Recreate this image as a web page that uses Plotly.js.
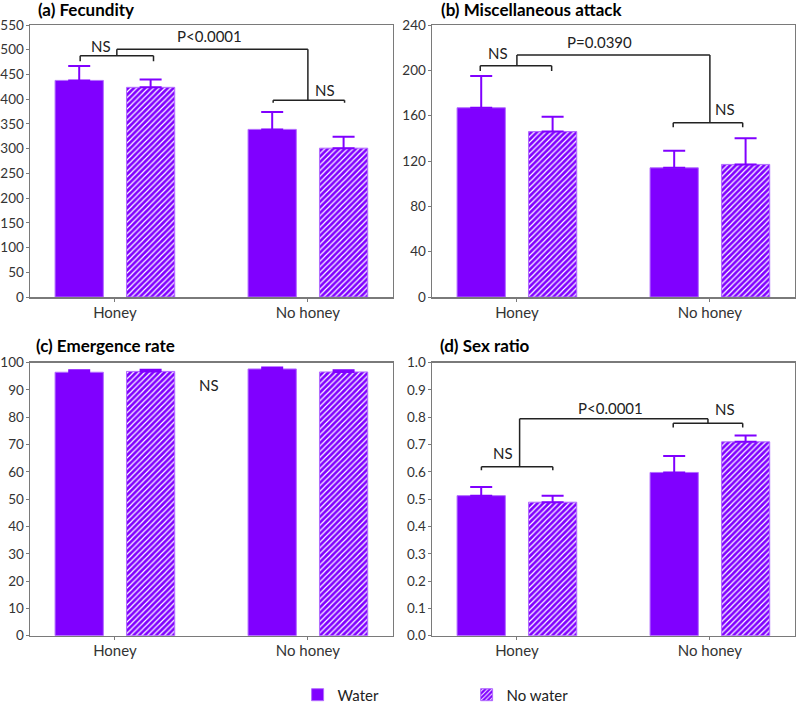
<!DOCTYPE html>
<html>
<head>
<meta charset="utf-8">
<script src="https://cdn.plot.ly/plotly-3.0.1.min.js"></script>
<style>html,body{margin:0;padding:0;background:#fff;}#chart{width:800px;height:703px;}</style>
</head>
<body>
<div id="chart"></div>
<script>
// ---- data ----
const categories = ['Honey', 'No honey'];
const seriesNames = ['Water', 'No water'];

const fecundityWater = [438, 339];
const fecundityWaterErr = [29, 35];
const fecundityNoWater = [424, 301];
const fecundityNoWaterErr = [16, 23];

const attackWater = [167, 114];
const attackWaterErr = [28, 15];
const attackNoWater = [146, 117];
const attackNoWaterErr = [13, 23];

const emergenceWater = [96.5, 97.7];
const emergenceWaterErr = [0.7, 0.5];
const emergenceNoWater = [96.8, 96.6];
const emergenceNoWaterErr = [0.6, 0.6];

const sexWater = [0.513, 0.598];
const sexWaterErr = [0.032, 0.06];
const sexNoWater = [0.489, 0.710];
const sexNoWaterErr = [0.024, 0.023];

const panelTitles = ['(a) Fecundity', '(b) Miscellaneous attack', '(c) Emergence rate', '(d) Sex ratio'];

// ---- styling ----
const PURPLE = '#8000FF';
const OUTLINE = '#B26BFF';
const FONT = 'Lato, "Open Sans", sans-serif';

function barTrace(vals, errs, hatched, xa, ya, showlegend) {
  const t = {
    type: 'bar',
    name: seriesNames[hatched ? 1 : 0],
    x: categories,
    y: vals,
    xaxis: xa, yaxis: ya,
    width: 0.25,
    offset: hatched ? 0.06 : -0.31,
    showlegend: showlegend,
    legendgroup: hatched ? 'nw' : 'w',
    marker: {
      color: PURPLE,
      line: {color: OUTLINE, width: 1}
    },
    error_y: {
      type: 'data', symmetric: false,
      array: errs, arrayminus: errs.map(() => 0),
      color: PURPLE, thickness: 2, width: 11
    },
    hoverinfo: 'y'
  };
  if (hatched) {
    t.marker.pattern = {shape: '/', fgcolor: '#ffffff', bgcolor: PURPLE, size: 4, solidity: 0.3, fillmode: 'replace'};
  }
  return t;
}

const data = [
  barTrace(fecundityWater, fecundityWaterErr, false, 'x', 'y', true),
  barTrace(fecundityNoWater, fecundityNoWaterErr, true, 'x', 'y', true),
  barTrace(attackWater, attackWaterErr, false, 'x2', 'y2', false),
  barTrace(attackNoWater, attackNoWaterErr, true, 'x2', 'y2', false),
  barTrace(emergenceWater, emergenceWaterErr, false, 'x3', 'y3', false),
  barTrace(emergenceNoWater, emergenceNoWaterErr, true, 'x3', 'y3', false),
  barTrace(sexWater, sexWaterErr, false, 'x4', 'y4', false),
  barTrace(sexNoWater, sexNoWaterErr, true, 'x4', 'y4', false)
];

function xAxis(domain, anchor) {
  return {
    domain: domain, anchor: anchor, type: 'category',
    range: [-0.44, 1.44],
    showline: true, linecolor: '#7a7a7a', linewidth: 1.5, mirror: true,
    ticks: 'outside', ticklen: 3, tickwidth: 1, tickcolor: '#7a7a7a',
    ticklabelstandoff: -2,
    showgrid: false, zeroline: false,
    tickfont: {family: FONT, size: 15, color: '#333'},
    fixedrange: true
  };
}
function yAxis(domain, anchor, range, dtick, fmt) {
  return {
    domain: domain, anchor: anchor,
    range: range, dtick: dtick, tick0: 0, tickformat: fmt,
    showline: true, linecolor: '#7a7a7a', linewidth: 1.5, mirror: true,
    ticks: 'outside', ticklen: 3, tickwidth: 1, tickcolor: '#7a7a7a',
    ticklabelstandoff: -1,
    showgrid: false, zeroline: false,
    tickfont: {family: FONT, size: 13.5, color: '#333'},
    fixedrange: true
  };
}

const LINE = {color: '#222', width: 1.5};
function seg(xr, yr, x0, y0, x1, y1) {
  return {type: 'line', xref: xr, yref: yr, x0: x0, y0: y0, x1: x1, y1: y1, line: LINE};
}
function bracket(xr, yr, xa, xb, y, drop) {
  return [seg(xr, yr, xa, y, xb, y), seg(xr, yr, xa, y, xa, y - drop), seg(xr, yr, xb, y, xb, y - drop)];
}

let shapes = [];
// (a)
shapes = shapes.concat(bracket('x', 'y', -0.18, 0.20, 488, 11));
shapes.push(seg('x', 'y', 0.01, 488, 0.01, 501));
shapes.push(seg('x', 'y', 0.01, 501, 1.0, 501));
shapes.push(seg('x', 'y', 1.0, 501, 1.0, 398));
shapes = shapes.concat(bracket('x', 'y', 0.82, 1.19, 398, 5));
// (b)
shapes = shapes.concat(bracket('x2', 'y2', -0.19, 0.18, 204, 4.5));
shapes.push(seg('x2', 'y2', 0.0, 204, 0.0, 213.5));
shapes.push(seg('x2', 'y2', 0.0, 213.5, 1.0, 213.5));
shapes.push(seg('x2', 'y2', 1.0, 213.5, 1.0, 153.7));
shapes = shapes.concat(bracket('x2', 'y2', 0.81, 1.17, 153.7, 4));
// (d)
shapes = shapes.concat(bracket('x4', 'y4', -0.184, 0.186, 0.619, 0.013));
shapes.push(seg('x4', 'y4', 0.014, 0.619, 0.014, 0.795));
shapes.push(seg('x4', 'y4', 0.014, 0.795, 0.99, 0.795));
shapes.push(seg('x4', 'y4', 0.99, 0.795, 0.99, 0.778));
shapes = shapes.concat(bracket('x4', 'y4', 0.81, 1.17, 0.778, 0.015));

const tf = {family: FONT, size: 15, color: '#222'};
function lab(xr, yr, x, y, text) {
  return {xref: xr, yref: yr, x: x, y: y, text: text, showarrow: false, font: tf, xanchor: 'center', yanchor: 'middle'};
}
function title(x, y, text) {
  return {xref: 'paper', yref: 'paper', x: x, y: y, text: '<b>' + text + '</b>', showarrow: false,
          font: {family: FONT, size: 17, color: '#000'}, xanchor: 'left', yanchor: 'middle'};
}
const annotations = [
  title(0.045, 0.986, panelTitles[0]),
  title(0.549, 0.987, panelTitles[1]),
  title(0.043, 0.508, panelTitles[2]),
  title(0.548, 0.509, panelTitles[3]),
  lab('x', 'y', -0.07, 507, 'NS'),
  lab('x', 'y', 0.49, 528, 'P&lt;0.0001'),
  lab('x', 'y', 1.09, 418, 'NS'),
  lab('x2', 'y2', -0.10, 215, 'NS'),
  lab('x2', 'y2', 0.43, 224.7, 'P=0.0390'),
  lab('x2', 'y2', 1.08, 165.5, 'NS'),
  lab('x3', 'y3', 0.49, 91.8, 'NS'),
  lab('x4', 'y4', -0.07, 0.67, 'NS'),
  lab('x4', 'y4', 0.486, 0.833, 'P&lt;0.0001'),
  lab('x4', 'y4', 1.08, 0.830, 'NS')
];

const layout = {
  width: 800, height: 703,
  margin: {l: 0, r: 0, t: 0, b: 0, autoexpand: false},
  paper_bgcolor: '#fff', plot_bgcolor: '#fff',
  font: {family: FONT, color: '#333'},
  barmode: 'overlay',
  xaxis: xAxis([0.0375, 0.4910], 'y'),
  yaxis: yAxis([0.5775, 0.9644], 'x', [0, 550], 50),
  xaxis2: xAxis([0.5400, 0.9935], 'y2'),
  yaxis2: yAxis([0.5775, 0.9644], 'x2', [0, 240], 40),
  xaxis3: xAxis([0.0375, 0.4910], 'y3'),
  yaxis3: yAxis([0.0957, 0.4841], 'x3', [0, 100], 10),
  xaxis4: xAxis([0.5400, 0.9935], 'y4'),
  yaxis4: yAxis([0.0957, 0.4841], 'x4', [0, 1.0], 0.1, '.1f'),
  shapes: shapes,
  annotations: annotations,
  showlegend: true,
  legend: {
    orientation: 'h', x: 0.372, xanchor: 'left', y: -0.012, yanchor: 'bottom',
    entrywidth: 124, entrywidthmode: 'pixels',
    font: {family: FONT, size: 15, color: '#222'},
    bgcolor: 'rgba(0,0,0,0)'
  }
};

Plotly.newPlot('chart', data, layout, {displayModeBar: false, staticPlot: true});
</script>
</body>
</html>
